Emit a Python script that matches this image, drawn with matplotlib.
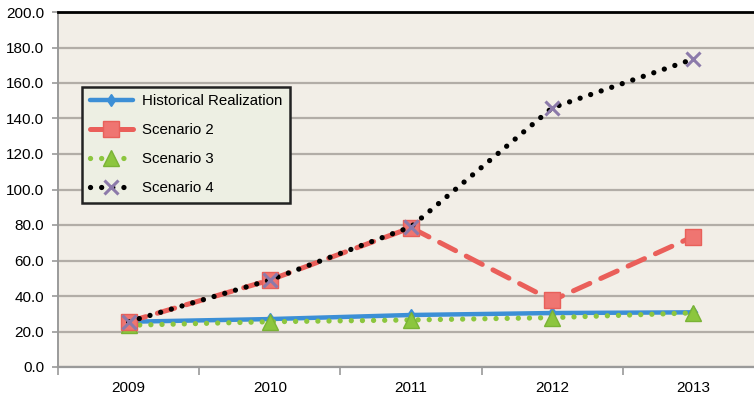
import matplotlib
matplotlib.use("Agg")
import matplotlib.pyplot as plt

years = ["2009", "2010", "2011", "2012", "2013"]
historical = [25.5, 27.0, 29.3, 30.4, 30.8]
scenario2 = [25.5, 49.0, 78.5, 37.5, 73.5]
scenario3 = [23.5, 25.5, 26.5, 27.8, 30.5]
scenario4 = [25.5, 49.0, 79.0, 146.0, 173.5]
yticks = [0, 20, 40, 60, 80, 100, 120, 140, 160, 180, 200]

plt.rcParams["font.family"] = ["Liberation Sans", "DejaVu Sans"]

fig = plt.figure(figsize=(7.54, 3.97), dpi=100)
fig.patch.set_facecolor("white")
ax = fig.add_axes([58 / 754, 30 / 397, 706 / 754, 355 / 397])
ax.set_facecolor("#f2eee7")

x = list(range(len(years)))

ax.plot(x, historical, color="#3c8fd6", lw=3.2, marker="d", ms=6,
        mfc="#3c8fd6", mec="#3c8fd6", solid_capstyle="round",
        label="Historical Realization", zorder=3)
ax.plot(x, scenario3, color="#8cc63e", lw=3.8, linestyle=(0, (0.01, 2.1)),
        dash_capstyle="round", marker="^", ms=11, mfc="#8cc63e",
        mec="#7ab335", label="Scenario 3", zorder=4)
ax.plot(x, scenario2, color="#ea5f5a", lw=3.6, linestyle=(0, (3.6, 2.4)),
        dash_capstyle="round", marker="s", ms=12, mfc="#ef7571",
        mec="#e8605a", label="Scenario 2", zorder=5)
ax.plot(x, scenario4, color="black", lw=3.8, linestyle=(0, (0.01, 2.1)),
        dash_capstyle="round", marker="x", ms=10, mew=2.2,
        mec="#8c7aaa", label="Scenario 4", zorder=6)

ax.set_xlim(-0.5, 4.5)
ax.set_ylim(0, 200)
ax.set_yticks(yticks)
ax.set_yticklabels([f"{v:.1f}" for v in yticks])
ax.set_xticks(x)
ax.set_xticklabels(years)
ax.set_xticks([i + 0.5 for i in range(-1, 5)], minor=True)

ax.grid(axis="y", color="#b2ada7", lw=1.6, zorder=1)
ax.tick_params(axis="y", which="major", length=4, width=1.2, color="#9a9a9a",
               labelsize=11, pad=6)
ax.tick_params(axis="x", which="major", length=0, labelsize=11, pad=10)
ax.tick_params(axis="x", which="minor", length=6, width=1.2, color="#9a9a9a",
               direction="out")

ax.spines["top"].set_color("black")
ax.spines["top"].set_linewidth(2.0)
ax.spines["right"].set_visible(False)
ax.spines["left"].set_color("#9a9a9a")
ax.spines["left"].set_linewidth(1.4)
ax.spines["bottom"].set_color("#9a9a9a")
ax.spines["bottom"].set_linewidth(1.6)

handles, labels = ax.get_legend_handles_labels()
order = [0, 2, 1, 3]
leg = ax.legend([handles[i] for i in order], [labels[i] for i in order],
                loc="upper left", bbox_to_anchor=(0.034, 0.789),
                borderaxespad=0, fontsize=10.8, frameon=True, fancybox=False,
                handlelength=2.9, labelspacing=1.0, borderpad=0.5,
                handletextpad=0.6)
leg.get_frame().set_facecolor("#edefe3")
leg.get_frame().set_edgecolor("#222222")
leg.get_frame().set_linewidth(1.8)
leg.get_frame().set_alpha(1)
leg.set_zorder(10)

fig.savefig("out.png", dpi=100)
